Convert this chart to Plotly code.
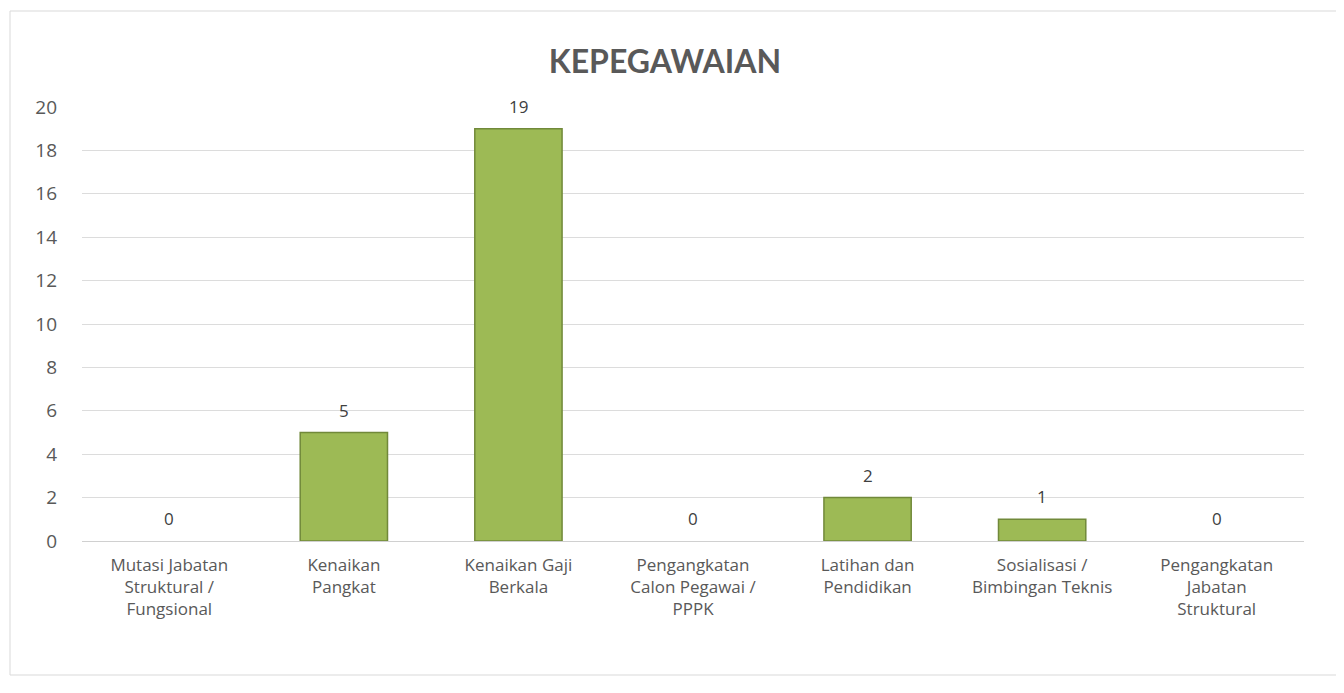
import plotly.graph_objects as go

# chart data
categories = [
    "Mutasi Jabatan<br>Struktural /<br>Fungsional",
    "Kenaikan<br>Pangkat",
    "Kenaikan Gaji<br>Berkala",
    "Pengangkatan<br>Calon Pegawai /<br>PPPK",
    "Latihan dan<br>Pendidikan",
    "Sosialisasi /<br>Bimbingan Teknis",
    "Pengangkatan<br>Jabatan<br>Struktural",
]
values = [0, 5, 19, 0, 2, 1, 0]
y_ticks = [0, 2, 4, 6, 8, 10, 12, 14, 16, 18, 20]

# plot area in page pixels (page body has an 8px margin)
L, R, T, B = 82, 1304, 107, 541
W, H = R - L, B - T

fig = go.Figure()
fig.add_trace(go.Bar(
    x=categories,
    y=values,
    marker=dict(
        color="#9dba55",
        line=dict(color="#71893a", width=[0 if v == 0 else 1.5 for v in values]),
    ),
))

# value labels above the bars
for c, v in zip(categories, values):
    fig.add_annotation(
        x=c, y=v, text=str(v), showarrow=False,
        yanchor="bottom", yshift=9,
        font=dict(size=17, color="#404040", family="Open Sans"),
    )

fig.update_layout(
    width=1344,
    height=693,
    margin=dict(l=L - 8, r=1344 + 8 - R, t=T - 8, b=693 + 8 - B),
    paper_bgcolor="white",
    plot_bgcolor="white",
    bargap=0.5,
    showlegend=False,
    title=dict(
        text="<b>KEPEGAWAIAN</b>",
        x=(665 - 8) / 1344, xanchor="center",
        y=1 - (62 - 8) / 693, yanchor="middle",
        font=dict(size=32, color="#595959", family="Lato"),
    ),
    font=dict(family="Open Sans", color="#595959"),
    xaxis=dict(
        tickfont=dict(size=17, color="#595959"),
        showline=False,
        ticks="",
        ticklabelstandoff=12,
    ),
    yaxis=dict(
        range=[0, 20],
        tickvals=y_ticks,
        tickfont=dict(size=19, color="#595959"),
        showgrid=True,
        gridcolor="#dcdcdc",
        gridwidth=1,
        zeroline=True,
        zerolinecolor="#d0d0d0",
        zerolinewidth=1,
        ticks="",
        ticklabelstandoff=24,
    ),
    shapes=[dict(
        type="rect", xref="paper", yref="paper",
        x0=(10 - L) / W, x1=(1338 - L) / W,
        y0=-(675 - B) / H, y1=1 + (T - 11) / H,
        line=dict(color="#d9d9d9", width=1),
    )],
)

fig.write_html("out.html")
